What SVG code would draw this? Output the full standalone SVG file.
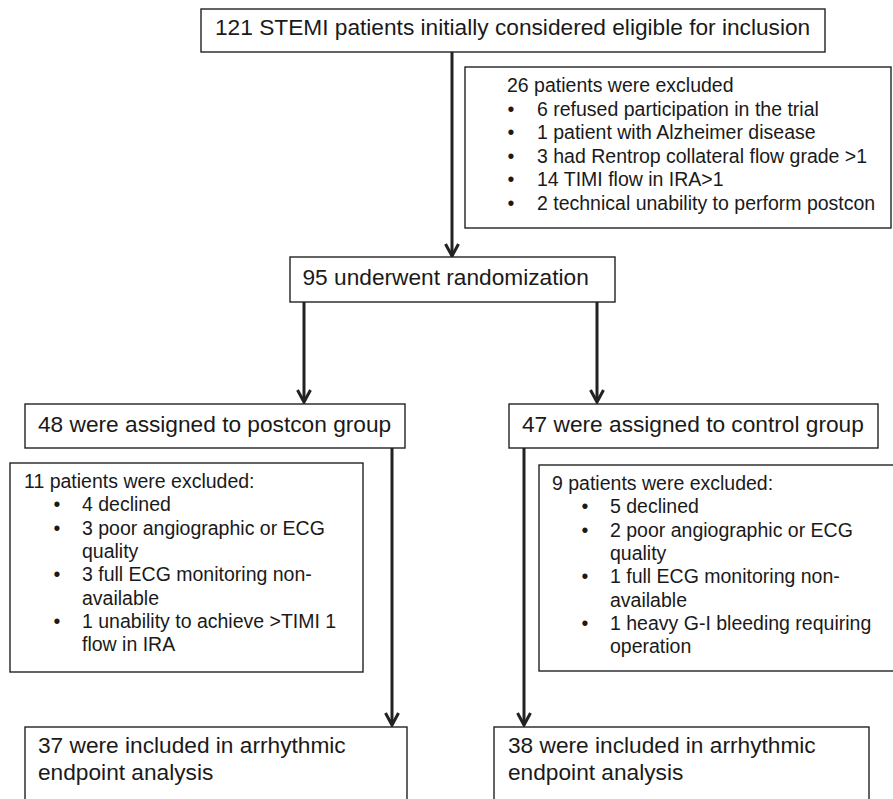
<svg xmlns="http://www.w3.org/2000/svg" width="893" height="799" viewBox="0 0 893 799">
<defs>
<style>
.box{fill:#fff;stroke:#222;stroke-width:1.4}
.h{font-family:"Liberation Sans",Arial,sans-serif;font-size:22.7px;fill:#1a1a1a}
.t{font-family:"Liberation Sans",Arial,sans-serif;font-size:19.5px;fill:#1a1a1a}
.b{font-family:"Liberation Sans",Arial,sans-serif;font-size:19.5px;fill:#1a1a1a;text-anchor:middle}
.c{stroke:#222;stroke-width:3;fill:none}
</style>
<marker id="arr" markerUnits="userSpaceOnUse" markerWidth="20" markerHeight="20" refX="0" refY="0" orient="auto" overflow="visible">
<path d="M-12,-6.5 L0,0 L-12,6.5" fill="none" stroke="#222" stroke-width="3" stroke-linejoin="miter"/>
</marker>
</defs>
<rect width="893" height="799" fill="#fff"/>
<g id="connectors">
<line class="c" x1="452" y1="52" x2="452" y2="256" marker-end="url(#arr)"/>
<line class="c" x1="304" y1="302" x2="304" y2="402" marker-end="url(#arr)"/>
<line class="c" x1="597" y1="302" x2="597" y2="402" marker-end="url(#arr)"/>
<line class="c" x1="392" y1="448" x2="392" y2="725" marker-end="url(#arr)"/>
<line class="c" x1="524" y1="448" x2="524" y2="725" marker-end="url(#arr)"/>
</g>
<g id="eligible">
<rect class="box" x="201" y="9" width="624" height="43"/>
<text class="h" x="215" y="35">121 STEMI patients initially considered eligible for inclusion</text>
</g>
<g id="excluded1">
<rect class="box" x="465" y="67" width="426" height="161"/>
<text class="t" x="507" y="92">26 patients were excluded</text>
<text class="b" x="511" y="115.5">•</text><text class="t" x="537" y="115.5">6 refused participation in the trial</text>
<text class="b" x="511" y="139">•</text><text class="t" x="537" y="139">1 patient with Alzheimer disease</text>
<text class="b" x="511" y="162.5">•</text><text class="t" x="537" y="162.5">3 had Rentrop collateral flow grade &gt;1</text>
<text class="b" x="511" y="186">•</text><text class="t" x="537" y="186">14 TIMI flow in IRA&gt;1</text>
<text class="b" x="511" y="209.5">•</text><text class="t" x="537" y="209.5">2 technical unability to perform postcon</text>
</g>
<g id="randomization">
<rect class="box" x="290" y="257" width="325" height="45"/>
<text class="h" x="302.5" y="285">95 underwent randomization</text>
</g>
<g id="postcon">
<rect class="box" x="25" y="404" width="380" height="44"/>
<text class="h" x="38" y="432">48 were assigned to postcon group</text>
</g>
<g id="control">
<rect class="box" x="509" y="404" width="369" height="44"/>
<text class="h" x="522" y="432">47 were assigned to control group</text>
</g>
<g id="excluded2">
<rect class="box" x="10" y="463" width="353" height="209"/>
<text class="t" x="24" y="488">11 patients were excluded:</text>
<text class="b" x="57" y="511.3">•</text><text class="t" x="82" y="511.3">4 declined</text>
<text class="b" x="57" y="534.6">•</text><text class="t" x="82" y="534.6">3 poor angiographic or ECG</text>
<text class="t" x="82" y="557.9">quality</text>
<text class="b" x="57" y="581.2">•</text><text class="t" x="82" y="581.2">3 full ECG monitoring non-</text>
<text class="t" x="82" y="604.5">available</text>
<text class="b" x="57" y="627.8">•</text><text class="t" x="82" y="627.8">1 unability to achieve &gt;TIMI 1</text>
<text class="t" x="82" y="651.1">flow in IRA</text>
</g>
<g id="excluded3">
<rect class="box" x="539" y="465" width="360" height="206"/>
<text class="t" x="552" y="490">9 patients were excluded:</text>
<text class="b" x="585" y="513.3">•</text><text class="t" x="610" y="513.3">5 declined</text>
<text class="b" x="585" y="536.6">•</text><text class="t" x="610" y="536.6">2 poor angiographic or ECG</text>
<text class="t" x="610" y="559.9">quality</text>
<text class="b" x="585" y="583.2">•</text><text class="t" x="610" y="583.2">1 full ECG monitoring non-</text>
<text class="t" x="610" y="606.5">available</text>
<text class="b" x="585" y="629.8">•</text><text class="t" x="610" y="629.8">1 heavy G-I bleeding requiring</text>
<text class="t" x="610" y="653.1">operation</text>
</g>
<g id="included1">
<rect class="box" x="25" y="727" width="382" height="90"/>
<text class="h" x="38" y="753">37 were included in arrhythmic</text>
<text class="h" x="38" y="780">endpoint analysis</text>
</g>
<g id="included2">
<rect class="box" x="494" y="727" width="375" height="90"/>
<text class="h" x="508" y="753">38 were included in arrhythmic</text>
<text class="h" x="508" y="780">endpoint analysis</text>
</g>
</svg>
